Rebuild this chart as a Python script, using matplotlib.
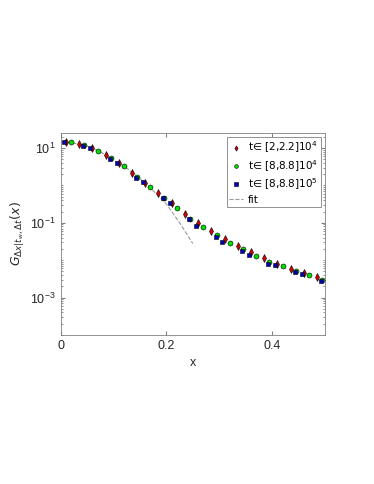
import matplotlib
matplotlib.use('Agg')
import matplotlib.pyplot as plt
from matplotlib.ticker import LogLocator, NullFormatter, FixedLocator

plt.rcParams['font.family'] = ['Liberation Sans', 'DejaVu Sans']
plt.rcParams['mathtext.fontset'] = 'dejavusans'

# t in [2,2.2]10^4
x_red = [0.010, 0.035, 0.060, 0.085, 0.110, 0.135, 0.160, 0.185, 0.210, 0.235,
         0.260, 0.285, 0.310, 0.335, 0.360, 0.385, 0.410, 0.435, 0.460, 0.485]
g_red = [14.5, 12.6, 10.0, 6.6, 4.0, 2.14, 1.17, 0.63, 0.33, 0.17,
         0.096, 0.060, 0.036, 0.024, 0.0162, 0.0112, 0.0079, 0.0059, 0.0046, 0.0036]

# t in [8,8.8]10^4
x_green = [0.020, 0.045, 0.070, 0.095, 0.120, 0.145, 0.170, 0.195, 0.220, 0.245,
           0.270, 0.295, 0.320, 0.345, 0.370, 0.395, 0.420, 0.445, 0.470, 0.495]
g_green = [14.1, 11.7, 8.5, 5.4, 3.2, 1.66, 0.89, 0.46, 0.245, 0.126,
           0.076, 0.048, 0.028, 0.0204, 0.0129, 0.0087, 0.0068, 0.0050, 0.0039, 0.0029]

# t in [8,8.8]10^5
x_blue = [0.006, 0.043, 0.056, 0.093, 0.106, 0.143, 0.156, 0.193, 0.206, 0.243,
          0.256, 0.293, 0.306, 0.343, 0.356, 0.393, 0.406, 0.443, 0.456, 0.493]
g_blue = [14.1, 11.2, 10.0, 5.2, 4.0, 1.62, 1.23, 0.45, 0.34, 0.126,
          0.083, 0.042, 0.031, 0.0174, 0.0141, 0.0079, 0.0072, 0.0048, 0.0043, 0.0028]

# fit curve
x_fit = [0.0, 0.025, 0.05, 0.075, 0.1, 0.125, 0.15, 0.175, 0.2, 0.225, 0.25]
g_fit = [14.5, 13.5, 11.2, 7.9, 4.8, 2.9, 1.5, 0.72, 0.32, 0.10, 0.028]

fig = plt.figure(figsize=(3.74, 4.84), dpi=100)
ax = fig.add_axes([0.162, 0.308, 0.707, 0.417])

edge = 'black'
ax.plot(x_fit, g_fit, '--', color='#999999', lw=0.8, label='fit', zorder=1)
ax.plot(x_red, g_red, 'd', color='#d40000', mec=edge, mew=0.4, ms=3.6,
        label='t\u2208 [2,2.2]10$^4$', zorder=3)
ax.plot(x_green, g_green, 'o', color='#00dd00', mec=edge, mew=0.4, ms=3.6,
        label='t\u2208 [8,8.8]10$^4$', zorder=3)
ax.plot(x_blue, g_blue, 's', color='#0000b4', mec=edge, mew=0.4, ms=3.2,
        label='t\u2208 [8,8.8]10$^5$', zorder=3)

ax.set_yscale('log')
ax.set_xlim(0, 0.5)
ax.set_ylim(1e-4, 25)
ax.set_xticks([0, 0.2, 0.4])
ax.set_xticklabels(['0', '0.2', '0.4'])
ax.yaxis.set_major_locator(FixedLocator([1e-3, 1e-1, 1e1]))
ax.yaxis.set_minor_locator(LogLocator(base=10, subs=range(1, 10), numticks=20))
ax.yaxis.set_minor_formatter(NullFormatter())

for s in ax.spines.values():
    s.set_color('#808080')
    s.set_linewidth(0.6)
ax.tick_params(which='both', direction='in', top=True, right=True,
               colors='#808080', labelcolor='#262626', labelsize=9)
ax.tick_params(which='major', length=3)
ax.tick_params(which='minor', length=1.5)

ax.set_xlabel('x', fontsize=9, color='#262626')
ax.set_ylabel(r'$G_{\Delta x|t_w,\Delta t}(x)$', fontsize=9, color='#262626', labelpad=2)

h, l = ax.get_legend_handles_labels()
order = [1, 2, 3, 0]
leg = ax.legend([h[i] for i in order], [l[i] for i in order],
                loc='upper right', prop={'family': 'DejaVu Sans', 'size': 7.5},
                frameon=True, fancybox=False,
                handlelength=1.3, handletextpad=0.5, borderpad=0.25,
                labelspacing=0.25, borderaxespad=0.4, markerscale=0.75)
leg.get_frame().set_edgecolor('#808080')
leg.get_frame().set_linewidth(0.6)
leg.get_frame().set_alpha(1)

fig.savefig('out.png', dpi=100)
